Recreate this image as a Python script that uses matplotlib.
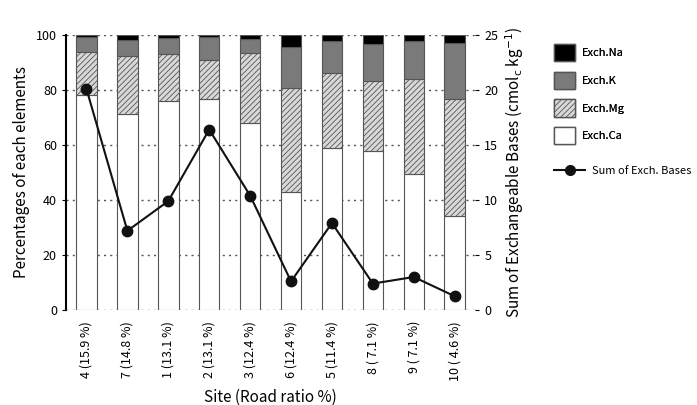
import numpy as np
import matplotlib.pyplot as plt
from matplotlib.patches import Patch
from matplotlib.lines import Line2D

plt.rcParams['font.family'] = ['Noto Sans CJK JP', 'DejaVu Sans']
plt.rcParams['hatch.linewidth'] = 0.6

# data
sites = ['4 (15.9 %)', '7 (14.8 %)', '1 (13.1 %)', '2 (13.1 %)', '3 (12.4 %)',
         '6 (12.4 %)', '5 (11.4 %)', '8 ( 7.1 %)', '9 ( 7.1 %)', '10 ( 4.6 %)']
ca = [78.2, 71.3, 76.1, 76.8, 68.1, 43.0, 59.0, 57.9, 49.5, 34.2]
mg = [15.7, 21.1, 17.0, 14.1, 25.2, 37.9, 27.3, 25.4, 34.4, 42.4]
k = [5.5, 5.8, 5.7, 8.3, 5.2, 14.9, 11.6, 13.4, 13.9, 20.4]
na = [0.6, 1.8, 1.2, 0.8, 1.5, 4.2, 2.1, 3.3, 2.2, 3.0]
sum_bases = [20.1, 7.2, 9.9, 16.4, 10.4, 2.6, 7.9, 2.4, 3.0, 1.25]

x = np.arange(len(sites))
w = 0.5
edge = '#555555'

fig = plt.figure(figsize=(6.97, 4.05), dpi=100)
ax = fig.add_axes([0.0947, 0.2346, 0.587, 0.679])

ax.bar(x, ca, w, color='white', edgecolor=edge, linewidth=0.8, zorder=2)
ax.bar(x, mg, w, bottom=ca, color='#d8d8d8', edgecolor=edge, hatch='//////', linewidth=0.8, zorder=2)
bot = np.array(ca) + np.array(mg)
ax.bar(x, k, w, bottom=bot, color='#7a7a7a', edgecolor=edge, linewidth=0.8, zorder=2)
bot = bot + np.array(k)
ax.bar(x, na, w, bottom=bot, color='black', edgecolor=edge, linewidth=0.8, zorder=2)

ax.set_xlim(-0.5, len(sites) - 0.5)
ax.set_ylim(0, 100)
ax.set_yticks(range(0, 101, 20))
ax.yaxis.grid(True, linestyle=(0, (1.5, 3)), color='#555555', linewidth=1.0, zorder=0)
ax.set_axisbelow(True)
ax.set_xticks(x)
ax.set_xticklabels(sites, rotation=90, fontsize=9)
ax.tick_params(axis='x', length=0, pad=8)
ax.tick_params(axis='y', labelsize=9, length=3)
for s in ['top', 'right', 'bottom']:
    ax.spines[s].set_visible(False)
ax.spines['left'].set_linewidth(1.5)
ax.set_ylabel('Percentages of each elements', fontsize=11)
ax.set_xlabel('Site (Road ratio %)', fontsize=11, labelpad=6)

ax2 = ax.twinx()
ax2.plot(x, sum_bases, color='#111111', marker='o', markersize=7.5, linewidth=1.5)
ax2.set_ylim(0, 25)
ax2.set_yticks(range(0, 26, 5))
ax2.tick_params(axis='y', labelsize=9, length=3)
for s in ['top', 'right', 'bottom', 'left']:
    ax2.spines[s].set_visible(False)
ax2.set_ylabel('Sum of Exchangeable Bases (cmol$_\\mathrm{c}$ kg$^{-1}$)', fontsize=11)

handles = [Patch(facecolor='black', edgecolor=edge),
           Patch(facecolor='#7a7a7a', edgecolor=edge),
           Patch(facecolor='#d8d8d8', edgecolor=edge, hatch='//////'),
           Patch(facecolor='white', edgecolor=edge)]
labels = ['Exch.Na', 'Exch.K', 'Exch.Mg', 'Exch.Ca']
leg1 = fig.legend(handles, labels, loc='upper left', bbox_to_anchor=(0.787, 0.905),
                  frameon=False, fontsize=8, handlelength=1.9, handleheight=2.0,
                  labelspacing=0.95, handletextpad=0.6, borderpad=0)
fig.add_artist(leg1)
line_h = Line2D([], [], color='#111111', marker='o', markersize=7, linewidth=1.5)
fig.legend([line_h], ['Sum of Exch. Bases'], loc='upper left', bbox_to_anchor=(0.787, 0.605),
           frameon=False, fontsize=8, handlelength=2.8, handletextpad=0.6, borderpad=0)

fig.savefig('out.png', dpi=100)
